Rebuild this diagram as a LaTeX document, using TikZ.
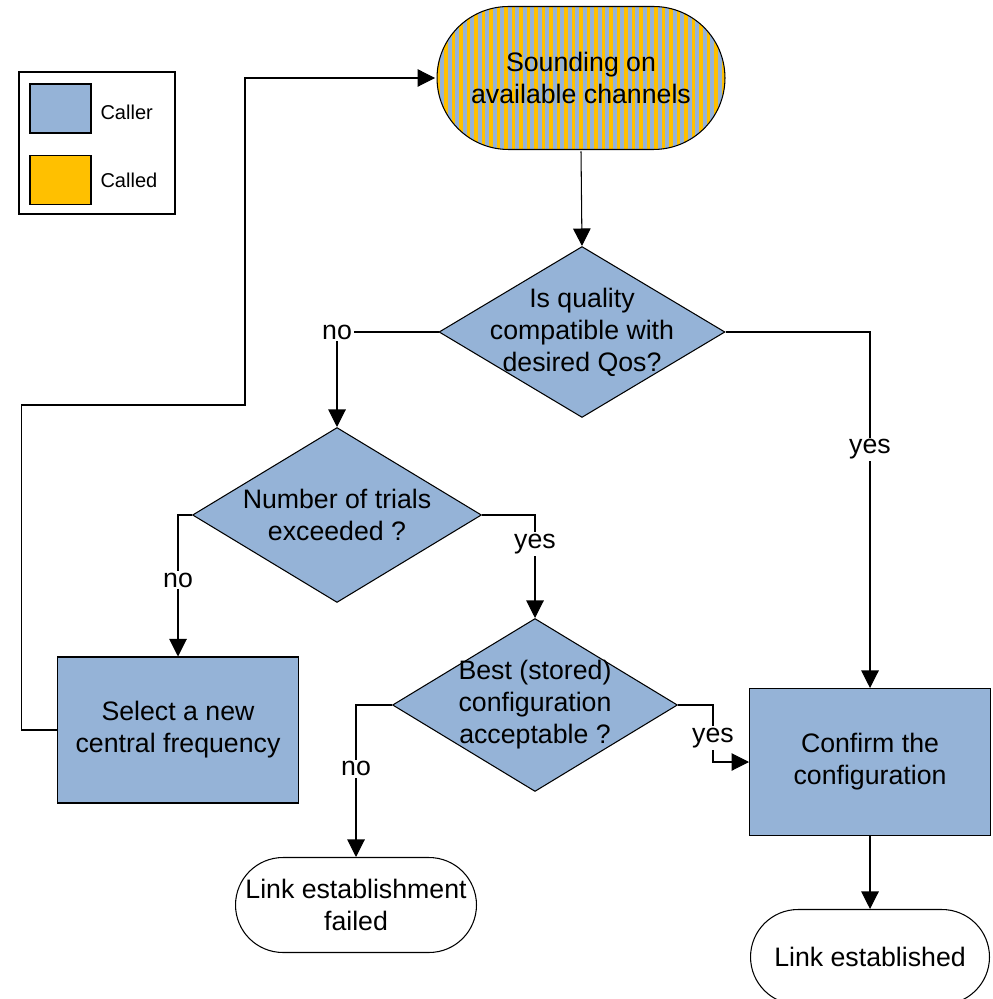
\documentclass[tikz,border=0pt]{standalone}
\usepackage{fontspec}
\setmainfont{Liberation Sans}
\usetikzlibrary{shapes.geometric,shapes.misc,arrows.meta,patterns.meta}
\definecolor{callerc}{RGB}{149,179,215}
\definecolor{calledc}{RGB}{255,192,0}
\begin{document}
\begin{tikzpicture}[x=0.02cm, y=-0.02cm, line width=0.6pt,
  every node/.style={font=\fontsize{15.2}{18.2}\selectfont, align=center},
  box/.style={draw, fill=callerc, rectangle, minimum width=4.83cm, minimum height=2.92cm},
  test/.style={draw, fill=callerc, diamond, minimum width=5.74cm, minimum height=3.46cm, inner sep=0pt},
  term/.style={draw, rounded rectangle, minimum width=4.82cm, minimum height=1.9cm, inner sep=0pt},
  arr/.style={-{Triangle[length=0.35cm,width=0.35cm]}},
  lbl/.style={fill=white, inner sep=1pt}]
  \useasboundingbox (0,0) rectangle (992,999);
  \node[draw, line width=1.3pt, minimum width=3.12cm, minimum height=2.84cm] (key) at (97,143) {};
  \node[draw, fill=callerc, minimum width=1.22cm, minimum height=0.98cm] (keyA) at (60.5,108.5) {};
  \node[draw, fill=calledc, minimum width=1.22cm, minimum height=0.98cm] (keyB) at (60.5,180) {};
  \node[anchor=west, inner sep=0pt, font=\fontsize{11.4}{13}\selectfont] (keyAt) at (100,112) {Caller};
  \node[anchor=west, inner sep=0pt, font=\fontsize{11.4}{13}\selectfont] (keyBt) at (100,180) {Called};
  \node[term, minimum width=5.76cm, minimum height=2.86cm, preaction={fill=calledc},
    pattern={Lines[angle=90,distance=0.15cm,line width=0.08cm]}, pattern color=callerc,
    label={center:{Sounding on\\available channels}}] (snd) at (581,78) {};
  \node[test, minimum width=5.72cm, minimum height=3.42cm,
    label={center:{Is quality\\compatible with\\desired Qos?}}] (d1) at (582,332) {};
  \node[test, minimum width=5.78cm, minimum height=3.5cm,
    label={center:{Number of trials\\exceeded ?}}] (d2) at (337,515) {};
  \node[test, minimum width=5.7cm, minimum height=3.46cm,
    label={center:{Best (stored)\\configuration\\acceptable ?}}] (d3) at (535,705) {};
  \node[box] (sel) at (178,730) {Select a new\\central frequency};
  \node[box, minimum width=4.82cm, minimum height=2.94cm] (conf) at (870,762) {Confirm the\\configuration};
  \node[term, label={center:{Link establishment\\failed}}] (fail) at (356,905) {};
  \node[term, minimum width=4.78cm, label={center:{Link established}}] (est) at (870,957) {};
  \coordinate (back) at (245,405);
  \draw[arr] (snd.south) -- (d1.north);
  \draw[arr] (d1.west) -| node[lbl]{no} (d2.north);
  \draw[arr] (d1.east) -| node[lbl, pos=0.665]{yes} (conf.north);
  \draw[arr] (d2.west) -| node[lbl, pos=0.73]{no} (sel.north);
  \draw[arr] (d2.east) -| node[lbl, pos=0.64]{yes} (d3.north);
  \draw[arr] (d3.west) -| node[lbl, pos=0.71]{no} (fail.north);
  \draw[arr] (d3.east) -- ++(35,0) |- node[lbl, pos=0.29]{yes} (conf.west);
  \draw[arr] (sel.west) -- ++(-35,0) |- (back) |- (snd.west);
  \draw[arr] (conf.south) -- (est.north);
\end{tikzpicture}
\end{document}
